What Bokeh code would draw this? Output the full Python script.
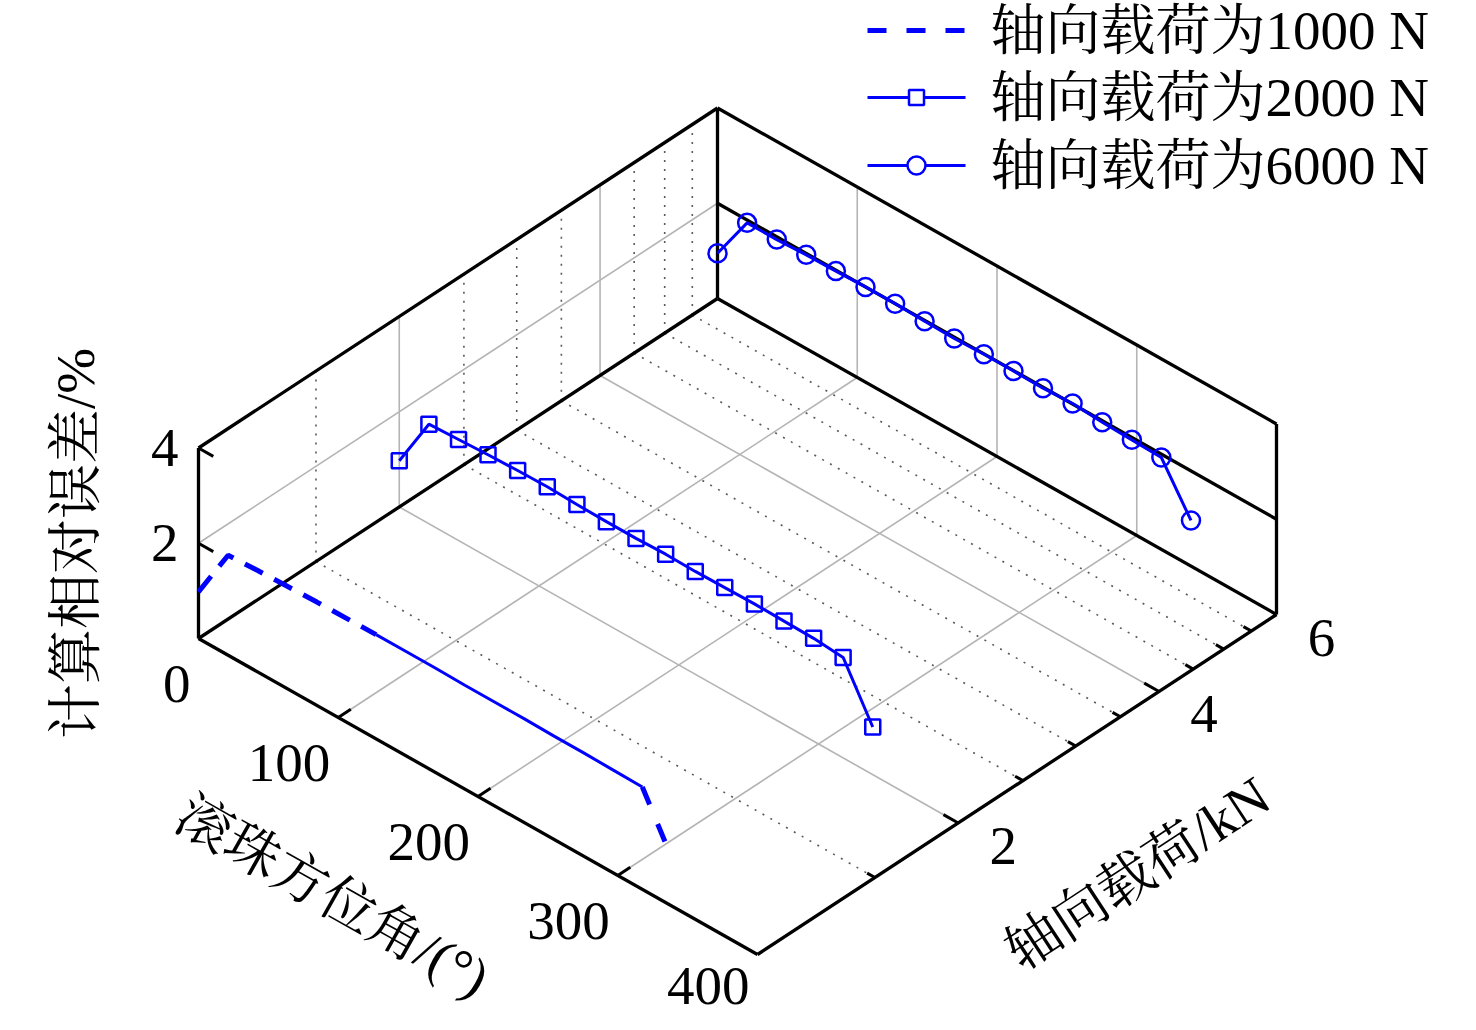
import numpy as np
from bokeh.plotting import figure
from bokeh.models import Range1d
from bokeh.core.properties import value
from bokeh.embed import file_html
from bokeh.resources import INLINE

# ---------------- data ----------------
angle_deg = [0.0, 21.2, 42.4, 63.5, 84.7, 105.9, 127.1, 148.2, 169.4,
             190.6, 211.8, 232.9, 254.1, 275.3, 296.5, 317.6, 338.8]
err_1000 = [0.98, 2.10, 2.13, 2.15, 2.17, 2.18, 2.19, 2.19, 2.19,
            2.18, 2.18, 2.18, 2.17, 2.17, 2.16, 2.15, 1.00]
err_2000 = [0.97, 2.09, 2.12, 2.15, 2.17, 2.18, 2.16, 2.15, 2.15,
            2.17, 2.16, 2.17, 2.18, 2.17, 2.16, 2.11, 1.00]
err_6000 = [0.95, 1.94, 1.94, 1.97, 1.98, 2.00, 2.00, 1.98, 1.97,
            1.99, 1.99, 1.98, 2.01, 1.97, 1.95, 1.93, 0.96]
load_kN = [1, 2, 6]
series_names = ["轴向载荷为1000 N", "轴向载荷为2000 N", "轴向载荷为6000 N"]

x_lim = [0, 400]
y_lim = [1, 6]
z_lim = [0, 4]
x_ticks = [0, 100, 200, 300, 400]
x_tick_labels = ["0", "100", "200", "300", "400"]
y_major = [2, 4, 6]
y_major_labels = ["2", "4", "6"]
y_minor = [1.5, 2.5, 3, 3.5, 4.5, 5, 5.5]
z_ticks = [2, 4]
z_tick_labels = ["2", "4"]
x_title = "滚珠方位角/(°)"
y_title = "轴向载荷/kN"
z_title = "计算相对误差/%"

# ---------------- projection (layout) ----------------
H = 1030
O = np.array([198.0, 638.0])          # screen of (x=0, y=1, z=0)
VX = np.array([559.0, 316.0])         # full x range
VY = np.array([519.0, -340.0])        # full (log) y range
VZ = np.array([0.0, -190.5])          # full z range


def proj(x, y, z):
    x = np.asarray(x, float)
    y = np.asarray(y, float)
    z = np.asarray(z, float)
    fx = (x - x_lim[0]) / (x_lim[1] - x_lim[0])
    fy = (np.log10(y) - np.log10(y_lim[0])) / (np.log10(y_lim[1]) - np.log10(y_lim[0]))
    fz = (z - z_lim[0]) / (z_lim[1] - z_lim[0])
    px = O[0] + fx * VX[0] + fy * VY[0] + fz * VZ[0]
    py = O[1] + fx * VX[1] + fy * VY[1] + fz * VZ[1]
    return px, py


def to_b(py):
    return H - np.asarray(py, float)


def seg(a, b):
    ax, ay = proj(*a)
    bx, by = proj(*b)
    return [float(ax), float(bx)], [float(to_b(ay)), float(to_b(by))]


def add_segs(p, segs, **kw):
    xs = [s[0] for s in segs]
    ys = [s[1] for s in segs]
    p.multi_line(xs, ys, **kw)


FONT = value("'Liberation Serif', 'Noto Serif CJK SC', 'Noto Sans CJK SC', serif")
FS = "55px"
BLUE = "#0000ff"

p = figure(width=1460, height=1014, x_range=Range1d(0, 1460), y_range=Range1d(16, 1030),
           output_backend="svg", toolbar_location=None, min_border=0,
           x_axis_type=None, y_axis_type=None)
p.grid.visible = False
p.outline_line_color = None
p.background_fill_color = "white"
p.border_fill_color = "white"

x0, x1 = x_lim
y0, y1 = y_lim
z0, z1 = z_lim
zmid = 2

# ---------------- grid ----------------
solid_grid = []
dot_grid = []
for xv in x_ticks[1:-1]:
    solid_grid.append(seg((xv, y0, z0), (xv, y1, z0)))      # floor
    solid_grid.append(seg((xv, y1, z0), (xv, y1, z1)))      # back-right wall
for yv in y_major[:-1]:
    solid_grid.append(seg((x0, yv, z0), (x1, yv, z0)))      # floor
    solid_grid.append(seg((x0, yv, z0), (x0, yv, z1)))      # left wall
for yv in y_minor:
    dot_grid.append(seg((x0, yv, z0), (x1, yv, z0)))
    dot_grid.append(seg((x0, yv, z0), (x0, yv, z1)))
solid_grid.append(seg((x0, y0, zmid), (x0, y1, zmid)))      # left wall z grid

add_segs(p, dot_grid, line_color="#5a5a5a", line_width=1.6, line_dash="2 7")
add_segs(p, solid_grid, line_color="#b4b4b4", line_width=1.6)

# ---------------- box ----------------
box = [
    seg((x0, y0, z0), (x1, y0, z0)),
    seg((x1, y0, z0), (x1, y1, z0)),
    seg((x0, y0, z0), (x0, y1, z0)),
    seg((x0, y1, z0), (x1, y1, z0)),
    seg((x0, y0, z0), (x0, y0, z1)),
    seg((x0, y1, z0), (x0, y1, z1)),
    seg((x1, y1, z0), (x1, y1, z1)),
    seg((x0, y0, z1), (x0, y1, z1)),
    seg((x0, y1, z1), (x1, y1, z1)),
    seg((x0, y1, zmid), (x1, y1, zmid)),
]
add_segs(p, box, line_color="black", line_width=3.3)

# ---------------- ticks ----------------
ux = VX / np.linalg.norm(VX)
uy = VY / np.linalg.norm(VY)
ticks = []
for zv in z_ticks:
    sx, sy = proj(x0, y0, zv)
    ticks.append(([sx, sx + 17 * ux[0]], [H - sy, H - (sy + 17 * ux[1])]))
for xv in x_ticks[1:-1]:
    sx, sy = proj(xv, y0, z0)
    ticks.append(([sx, sx + 15 * uy[0]], [H - sy, H - (sy + 15 * uy[1])]))
for yv in y_major[:-1]:
    sx, sy = proj(x1, yv, z0)
    ticks.append(([sx, sx - 17 * ux[0]], [H - sy, H - (sy - 17 * ux[1])]))
for yv in y_minor:
    sx, sy = proj(x1, yv, z0)
    ticks.append(([sx, sx - 9 * ux[0]], [H - sy, H - (sy - 9 * ux[1])]))
p.multi_line([t[0] for t in ticks], [t[1] for t in ticks], line_color="black", line_width=3)

# ---------------- tick labels ----------------
tx, ty = proj(x_ticks, [y0] * len(x_ticks), [z0] * len(x_ticks))
ty_lab = np.minimum(ty + 45, 985.0)   # keep the last label inside the canvas
p.text(x=list(tx - 8), y=list(to_b(ty_lab)), text=x_tick_labels, text_font=FONT,
       text_font_size=FS, text_align="right", text_baseline="middle", text_color="black")
tx, ty = proj([x1] * len(y_major), y_major, [z0] * len(y_major))
p.text(x=list(tx + 45), y=list(to_b(ty + 23)), text=y_major_labels, text_font=FONT,
       text_font_size=FS, text_align="center", text_baseline="middle", text_color="black")
tx, ty = proj([x0] * len(z_ticks), [y0] * len(z_ticks), z_ticks)
p.text(x=list(tx - 20), y=list(to_b(ty)), text=z_tick_labels, text_font=FONT,
       text_font_size=FS, text_align="right", text_baseline="middle", text_color="black")

# ---------------- axis titles ----------------
ang_x = -np.arctan2(VX[1], VX[0])
ang_y = np.arctan2(-VY[1], VY[0])
p.text(x=[332], y=[H - 896], text=[x_title], angle=ang_x, text_font=FONT, text_font_size=FS,
       text_align="center", text_baseline="middle", text_color="black")
p.text(x=[1137], y=[H - 873], text=[y_title], angle=ang_y, text_font=FONT, text_font_size=FS,
       text_align="center", text_baseline="middle", text_color="black")
p.text(x=[75], y=[H - 543], text=[z_title], angle=np.pi / 2, text_font=FONT, text_font_size=FS,
       text_align="center", text_baseline="middle", text_color="black")

# ---------------- data ----------------
n = len(angle_deg)
# 1000 N
lx, ly = proj(angle_deg, [load_kN[0]] * n, err_1000)
lyb = to_b(ly)
p.line(lx[:7], lyb[:7], line_color=BLUE, line_width=5, line_dash="20 13")
p.line(lx[6:16], lyb[6:16], line_color=BLUE, line_width=3)
p.line(lx[15:], lyb[15:], line_color=BLUE, line_width=5, line_dash="19 21")
# 2000 N
lx, ly = proj(angle_deg, [load_kN[1]] * n, err_2000)
p.line(lx, to_b(ly), line_color=BLUE, line_width=3)
p.scatter(lx, to_b(ly), marker="square", size=15, line_color=BLUE, line_width=2.5, fill_color=None)
# 6000 N
lx, ly = proj(angle_deg, [load_kN[2]] * n, err_6000)
p.line(lx, to_b(ly), line_color=BLUE, line_width=3)
p.scatter(lx, to_b(ly), marker="circle", size=18, line_color=BLUE, line_width=2.5, fill_color=None)

# ---------------- legend ----------------
leg_y = [30, 97, 165]
p.line([867, 965], [H - leg_y[0]] * 2, line_color=BLUE, line_width=5, line_dash="19 20")
p.line([867, 965], [H - leg_y[1]] * 2, line_color=BLUE, line_width=3)
p.scatter([916], [H - leg_y[1]], marker="square", size=15, line_color=BLUE, line_width=2.5, fill_color="white")
p.line([867, 965], [H - leg_y[2]] * 2, line_color=BLUE, line_width=3)
p.scatter([916], [H - leg_y[2]], marker="circle", size=18, line_color=BLUE, line_width=2.5, fill_color="white")
p.text(x=[990] * 3, y=[H - v for v in leg_y], text=series_names, text_font=FONT, text_font_size=FS,
       text_align="left", text_baseline="middle", text_color="black")

open("out.html", "w").write(file_html(p, INLINE))
